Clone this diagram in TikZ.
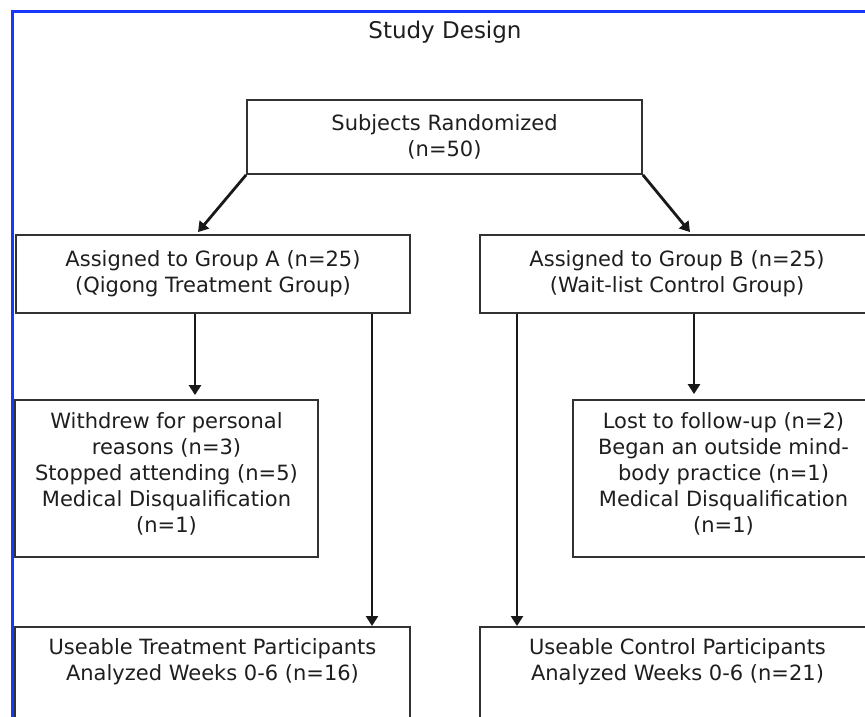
\documentclass[tikz,border=0pt]{standalone}
\usepackage{fontspec}
\setmainfont{DejaVu Sans}
\usetikzlibrary{arrows.meta,calc}
\definecolor{frameblue}{RGB}{25,55,255}
\definecolor{txt}{RGB}{30,30,30}
\definecolor{boxline}{RGB}{50,50,50}
\tikzset{
  boxnode/.style={draw=boxline,line width=1.8pt,rectangle,inner sep=0pt,text=txt,align=center,
    font=\fontsize{21}{26}\selectfont},
  txtnode/.style={text=txt,align=center,inner sep=0pt,font=\fontsize{21}{26}\selectfont},
  arr/.style={draw=black!90,line width=2.8pt,-{Triangle[length=10pt,width=12pt]}}
}
\begin{document}
\begin{tikzpicture}[x=1pt,y=-1pt]
\useasboundingbox (0,0) rectangle (865,717);
\begin{scope}
\clip (0,0) rectangle (865,717);
% blue frame
\draw[frameblue,line width=3pt] (12.5,730) -- (12.5,12) -- (880,12);
\node[txtnode,font=\fontsize{23}{26}\selectfont] (title) at (445,32) {Study Design};
\node[boxnode,minimum width=395pt,minimum height=74pt] (top) at (444.5,137) {Subjects Randomized\\(n=50)};
\node[boxnode,minimum width=394pt,minimum height=78pt] (A) at (213,274) {Assigned to Group A (n=25)\\(Qigong Treatment Group)};
\node[boxnode,minimum width=394pt,minimum height=78pt] (B) at (677,274) {Assigned to Group B (n=25)\\(Wait-list Control Group)};
\node[boxnode,minimum width=303pt,minimum height=157pt] (wd) at (166.5,478.5) {};
\node[txtnode] (wdt) at (166.5,474) {Withdrew for personal\\reasons (n=3)\\Stopped attending (n=5)\\Medical Disqualification\\(n=1)};
\node[boxnode,minimum width=301pt,minimum height=157pt] (lost) at (723.5,478.5) {};
\node[txtnode] (lostt) at (723.5,474) {Lost to follow-up (n=2)\\Began an outside mind-\\body practice (n=1)\\Medical Disqualification\\(n=1)};
\node[boxnode,minimum width=395pt,minimum height=200pt,anchor=north] (uT) at (212.5,626) {};
\node[txtnode] (uTt) at (212.5,662) {Useable Treatment Participants\\Analyzed Weeks 0-6 (n=16)};
\node[boxnode,minimum width=395pt,minimum height=200pt,anchor=north] (uC) at (677.5,626) {};
\node[txtnode] (uCt) at (677.5,662) {Useable Control Participants\\Analyzed Weeks 0-6 (n=21)};
% arrows
\coordinate (xa1) at (195,0);
\coordinate (xa2) at (372,0);
\coordinate (xb1) at (517,0);
\coordinate (xb2) at (694,0);
\draw[arr] (top.south west) -- ($(A.north)+(-15,-2)$);
\draw[arr] (top.south east) -- ($(B.north)+(13,-2)$);
\draw[arr] (A.south -| xa1) -- ($(wd.north -| xa1)+(0,-4)$);
\draw[arr] (A.south -| xa2) -- (uT.north -| xa2);
\draw[arr] (B.south -| xb2) -- ($(lost.north -| xb2)+(0,-5)$);
\draw[arr] (B.south -| xb1) -- (uC.north -| xb1);
\end{scope}
\end{tikzpicture}
\end{document}
